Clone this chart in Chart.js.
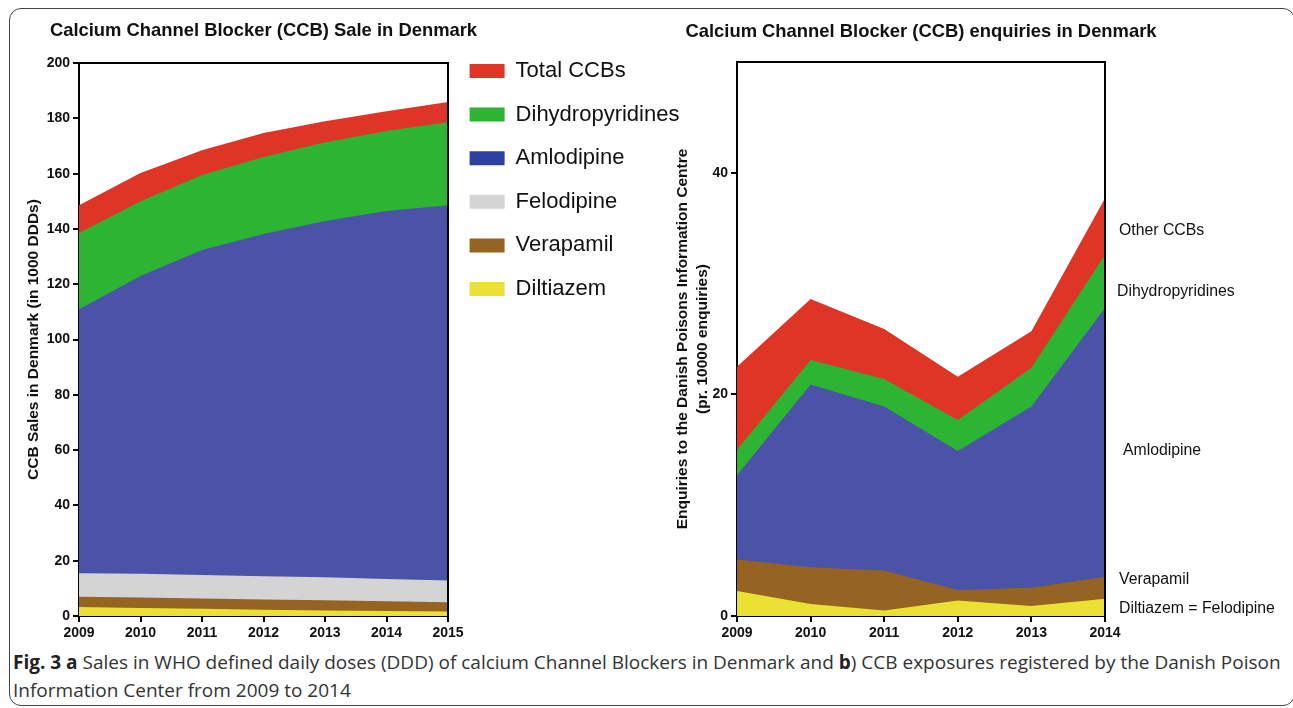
<!DOCTYPE html>
<html>
<head>
<meta charset="utf-8">
<script src="https://cdn.jsdelivr.net/npm/chart.js@4/dist/chart.umd.min.js"></script>
<style>
  html, body { margin: 0; padding: 0; background: #fff; }
  body { width: 1293px; height: 708px; position: relative; overflow: hidden; }
  #frame { position: absolute; left: 9px; top: 8px; width: 1286px; height: 698px;
           border: 1.5px solid #444; border-radius: 12px; box-sizing: border-box; }
  #wrapL { position: absolute; left: 0; top: 0; width: 720px; height: 646px; }
  #wrapR { position: absolute; left: 660px; top: 0; width: 633px; height: 646px; }
  #cap { position: absolute; left: 13px; top: 648px; font-family: "Open Sans", "Liberation Sans Narrow", sans-serif;
         font-stretch: 95%; font-size: 19px; line-height: 28px; color: #333; white-space: nowrap; }
  #cap b { color: #222; }
</style>
</head>
<body>
<div id="frame"></div>
<div id="wrapL"><canvas id="left"></canvas></div>
<div id="wrapR"><canvas id="right"></canvas></div>
<div id="cap"><b>Fig. 3 a</b> Sales in WHO defined daily doses (DDD) of calcium Channel Blockers in Denmark and <b>b</b>) CCB exposures registered by the Danish Poison<br>Information Center from 2009 to 2014</div>
<script>
// ---------- Data: panel a (sales, 1000 DDDs; visible top of each band) ----------
const titleA = 'Calcium Channel Blocker (CCB) Sale in Denmark';
const yearsA = ['2009', '2010', '2011', '2012', '2013', '2014', '2015'];
const totalCCBs = [148.6, 160.2, 168.5, 174.7, 179.0, 182.6, 185.9];
const dihydropyridines = [138.5, 150.0, 159.5, 166.0, 171.4, 175.4, 178.7];
const amlodipine = [111.0, 123.0, 132.4, 138.2, 142.9, 146.5, 148.6];
const felodipine = [15.5, 15.3, 14.8, 14.4, 14.0, 13.4, 12.8];
const verapamil = [7.0, 6.7, 6.3, 6.0, 5.7, 5.3, 5.0];
const diltiazem = [3.3, 2.9, 2.6, 2.3, 2.0, 1.8, 1.6];
const ticksA = [0, 20, 40, 60, 80, 100, 120, 140, 160, 180, 200];

// ---------- Data: panel b (enquiries per 10000; visible top of each band) ----------
const titleB = 'Calcium Channel Blocker (CCB) enquiries in Denmark';
const yearsB = ['2009', '2010', '2011', '2012', '2013', '2014'];
const otherCCBsB = [22.5, 28.6, 25.9, 21.6, 25.7, 37.7];
const dihydropyridinesB = [15.0, 23.1, 21.4, 17.7, 22.4, 32.6];
const amlodipineB = [12.7, 20.9, 18.9, 14.9, 18.9, 27.8];
const verapamilB = [5.1, 4.4, 4.1, 2.35, 2.56, 3.55];
const diltiazemB = [2.26, 1.08, 0.5, 1.4, 0.9, 1.56];
const ticksB = [0, 20, 40];

// Right-side annotation labels of panel b and the value level they sit at
const annotText = ['Other CCBs', 'Dihydropyridines', 'Amlodipine', 'Verapamil', 'Diltiazem = Felodipine'];
const annotLevel = [34.8, 29.3, 14.9, 3.3, 0.7];
const annotDx = [14, 12, 18, 14, 14];

// ---------- Styles ----------
const C = {
  red: '#DE3527', green: '#2DB432', blue: '#4B53A9', blueLegend: '#2F41A0',
  gray: '#D4D4D4', brown: '#956322', yellow: '#EBE133'
};
const FONT = '"Liberation Sans", Arial, Helvetica, sans-serif';
Chart.defaults.font.family = FONT;
Chart.defaults.color = '#111';
Chart.defaults.animation = false;

function area(label, data, color) {
  return { label, data, backgroundColor: color, borderWidth: 0, borderColor: color,
           pointRadius: 0, pointHoverRadius: 0, fill: 'origin', tension: 0 };
}

const boxPlugin = {
  id: 'box',
  afterDatasetsDraw(chart) {
    const { ctx, chartArea: a } = chart;
    ctx.save();
    ctx.strokeStyle = '#000';
    ctx.lineWidth = 2;
    ctx.beginPath();
    ctx.moveTo(a.left, a.top);
    ctx.lineTo(a.right, a.top);
    ctx.lineTo(a.right, a.bottom);
    ctx.stroke();
    ctx.restore();
  }
};

// Panel heading centred over the plot area (wider than the plot, so drawn without squeezing)
const headPlugin = {
  id: 'head',
  afterDraw(chart, args, opts) {
    const { ctx, chartArea: a } = chart;
    ctx.save();
    ctx.font = 'bold 18.4px ' + FONT;
    ctx.fillStyle = '#111';
    ctx.textAlign = 'center';
    ctx.textBaseline = 'middle';
    ctx.fillText(opts.text, (a.left + a.right) / 2, opts.y);
    ctx.restore();
  }
};

const axisTick = { display: true, drawOnChartArea: false, drawTicks: true, tickLength: 6, color: '#000', lineWidth: 2 };
const tickFont = { size: 14, weight: 'bold' };

// ---------- Panel a ----------
new Chart(document.getElementById('left'), {
  type: 'line',
  data: {
    labels: yearsA,
    datasets: [
      area('Diltiazem', diltiazem, C.yellow),
      area('Verapamil', verapamil, C.brown),
      area('Felodipine', felodipine, C.gray),
      area('Amlodipine', amlodipine, C.blue),
      area('Dihydropyridines', dihydropyridines, C.green),
      area('Total CCBs', totalCCBs, C.red)
    ]
  },
  options: {
    responsive: true, maintainAspectRatio: false,
    layout: { padding: { left: 0, top: 0, bottom: 0, right: 34 } },
    plugins: {
      tooltip: { enabled: false },
      head: { text: titleA, y: 31 },
      title: { display: true, fullSize: false, text: '', font: { size: 18.4, weight: 'bold' },
               padding: { top: 20, bottom: 21 } },
      legend: {
        position: 'right', align: 'start', reverse: true, maxWidth: 238,
        title: { display: true, text: '', font: { size: 12 }, padding: { top: 12, bottom: 12 } },
        labels: {
          boxWidth: 35, boxHeight: 14, padding: 21.6,
          font: { size: 22 }, color: '#111',
          generateLabels(chart) {
            const items = Chart.defaults.plugins.legend.labels.generateLabels(chart);
            items.forEach(it => {
              it.lineWidth = 0;
              if (it.text === 'Amlodipine') { it.fillStyle = C.blueLegend; }
            });
            return items;
          }
        }
      }
    },
    scales: {
      x: {
        type: 'category', offset: false,
        grid: axisTick, border: { display: true, color: '#000', width: 2 },
        ticks: { font: tickFont, color: '#111', padding: 3, maxRotation: 0 },
        afterFit(s) { s.height = 30; }
      },
      y: {
        min: 0, max: 200,
        afterBuildTicks(s) { s.ticks = ticksA.map(v => ({ value: v })); },
        grid: axisTick, border: { display: true, color: '#000', width: 2 },
        ticks: { font: tickFont, color: '#111', padding: 3 },
        title: { display: true, text: 'CCB Sales in Denmark (in 1000 DDDs)', font: { size: 15.5, weight: 'bold' },
                 color: '#111', padding: { top: 24.7, bottom: 0 } },
        afterFit(s) { s.width = 79; }
      }
    }
  },
  plugins: [boxPlugin, headPlugin]
});

// ---------- Panel b ----------
const annotPlugin = {
  id: 'annot',
  afterDraw(chart) {
    const { ctx, chartArea: a, scales } = chart;
    ctx.save();
    ctx.font = '15.8px ' + FONT;
    ctx.fillStyle = '#111';
    ctx.textAlign = 'left';
    ctx.textBaseline = 'middle';
    annotText.forEach((t, i) => {
      ctx.fillText(t, a.right + annotDx[i], scales.y.getPixelForValue(annotLevel[i]));
    });
    ctx.restore();
  }
};

new Chart(document.getElementById('right'), {
  type: 'line',
  data: {
    labels: yearsB,
    datasets: [
      area('Diltiazem = Felodipine', diltiazemB, C.yellow),
      area('Verapamil', verapamilB, C.brown),
      area('Amlodipine', amlodipineB, C.blue),
      area('Dihydropyridines', dihydropyridinesB, C.green),
      area('Other CCBs', otherCCBsB, C.red)
    ]
  },
  options: {
    responsive: true, maintainAspectRatio: false,
    layout: { padding: { left: 0, right: 188, top: 0, bottom: 0 } },
    plugins: {
      tooltip: { enabled: false },
      legend: { display: false },
      head: { text: titleB, y: 32 },
      title: { display: true, fullSize: false, text: '', font: { size: 18.4, weight: 'bold' },
               padding: { top: 21, bottom: 18.9 } }
    },
    scales: {
      x: {
        type: 'category', offset: false,
        grid: axisTick, border: { display: true, color: '#000', width: 2 },
        ticks: { font: tickFont, color: '#111', padding: 3, maxRotation: 0 },
        afterFit(s) { s.height = 30; }
      },
      y: {
        min: 0, max: 50,
        afterBuildTicks(s) { s.ticks = ticksB.map(v => ({ value: v })); },
        grid: axisTick, border: { display: true, color: '#000', width: 2 },
        ticks: { font: tickFont, color: '#111', padding: 3 },
        title: { display: true, text: ['Enquiries to the Danish Poisons Information Centre', '(pr. 10000 enquiries)'],
                 font: { size: 15.5, weight: 'bold', lineHeight: 1.29 }, color: '#111', padding: { top: 13, bottom: 0 } },
        afterFit(s) { s.width = 77; }
      }
    }
  },
  plugins: [boxPlugin, annotPlugin, headPlugin]
});
</script>
</body>
</html>
